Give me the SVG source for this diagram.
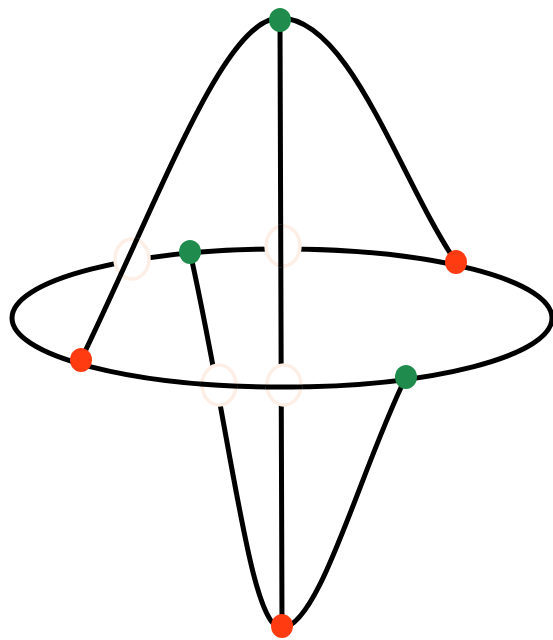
<svg xmlns="http://www.w3.org/2000/svg" xmlns:xlink="http://www.w3.org/1999/xlink" width="553" height="640" viewBox="0 0 553 640">
<style>
.s{fill:none;stroke:#000;stroke-width:5;stroke-linecap:round}
.ring{fill:#fff;stroke:#fdefe6;stroke-width:3.5}
.g{fill:#1f8b4c}
.r{fill:#ff3b12}
</style>
<defs>
<path id="ell" d="M12,318 A270,69 0 1,0 552,318 A270,69 0 1,0 12,318 Z"/>
<path id="top" d="M81,360 C165,185 225,18 280,18 C350,18 400,180 456,262"/>
<path id="bot" d="M190,252 C232,440 250,630 282,628 C320,626 360,470 406,377"/>
<path id="vert" d="M280,20 L282,626"/>
<clipPath id="c1"><ellipse cx="132" cy="259" rx="19" ry="22"/></clipPath>
<clipPath id="c2"><ellipse cx="283" cy="246" rx="19" ry="22"/></clipPath>
<clipPath id="c34"><ellipse cx="219" cy="385" rx="19" ry="22"/><ellipse cx="284" cy="385" rx="19" ry="22"/></clipPath>
</defs>
<g id="connectors">
<use href="#ell" class="s"/>
<use href="#top" class="s"/>
<use href="#bot" class="s"/>
<use href="#vert" class="s"/>
<ellipse class="ring" cx="132" cy="259" rx="17" ry="20"/>
<ellipse class="ring" cx="283" cy="246" rx="17" ry="20"/>
<ellipse class="ring" cx="219" cy="385" rx="17" ry="20"/>
<ellipse class="ring" cx="284" cy="385" rx="17" ry="20"/>
<use href="#top" class="s" clip-path="url(#c1)"/>
<use href="#vert" class="s" clip-path="url(#c2)"/>
<use href="#ell" class="s" clip-path="url(#c34)"/>
</g>
<g id="n1"><ellipse class="g" cx="280" cy="20" rx="11" ry="12"/></g>
<g id="n2"><ellipse class="g" cx="190" cy="252" rx="11" ry="12"/></g>
<g id="n3"><ellipse class="r" cx="456" cy="262" rx="11" ry="12"/></g>
<g id="n4"><ellipse class="r" cx="81" cy="360" rx="11" ry="12"/></g>
<g id="n5"><ellipse class="g" cx="406" cy="377" rx="11" ry="12"/></g>
<g id="n6"><ellipse class="r" cx="282" cy="626" rx="11" ry="12"/></g>
</svg>
